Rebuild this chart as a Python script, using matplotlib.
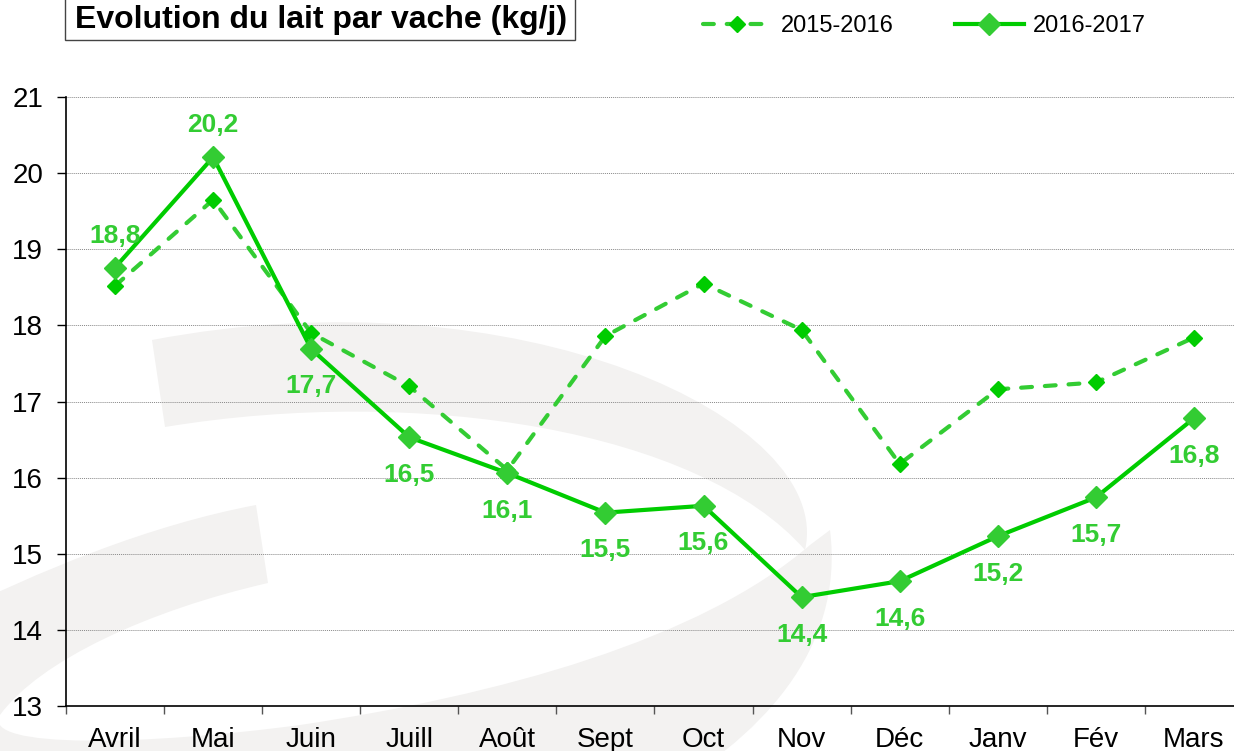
import numpy as np
import matplotlib
matplotlib.use("Agg")
import matplotlib.pyplot as plt
from matplotlib.path import Path
from matplotlib.patches import PathPatch, Rectangle

plt.rcParams['font.family'] = ['Liberation Sans', 'DejaVu Sans']

months = ['Avril', 'Mai', 'Juin', 'Juill', 'Août', 'Sept', 'Oct', 'Nov', 'Déc', 'Janv', 'Fév', 'Mars']
lait_2015 = [18.52, 19.65, 17.90, 17.20, 16.10, 17.86, 18.55, 17.94, 16.18, 17.16, 17.25, 17.84]
lait_2016 = [18.76, 20.21, 17.69, 16.53, 16.06, 15.54, 15.63, 14.43, 14.64, 15.23, 15.74, 16.78]
label_above = [True, True, False, False, False, False, False, False, False, False, False, False]

W, H = 1234, 751
fig = plt.figure(figsize=(W / 100, H / 100), dpi=100)


def px(pts):
    # image pixel coords -> figure fraction
    return [(x / W, 1 - y / H) for x, y in pts]


# faint watermark logo in the background
wm = '#f3f2f1'
C = Path.CURVE4
upper = Path(px([(152, 340), (165, 427),
                 (420, 385), (700, 430), (805, 550),
                 (835, 420), (520, 270), (152, 340),
                 (152, 340)]),
             [Path.MOVETO, Path.LINETO, C, C, C, C, C, C, Path.CLOSEPOLY])
lower = Path(px([(256, 505), (268, 583),
                 (150, 610), (40, 660), (0, 715),
                 (-20, 750), (150, 745), (300, 725),
                 (500, 695), (700, 640), (810, 545),
                 (830, 530),
                 (845, 650), (760, 740), (650, 800),
                 (-60, 800), (-60, 620),
                 (40, 570), (150, 525), (256, 505),
                 (256, 505)]),
             [Path.MOVETO, Path.LINETO, C, C, C, C, C, C, C, C, C,
              Path.LINETO, C, C, C, Path.LINETO, Path.LINETO, C, C, C,
              Path.CLOSEPOLY])
for p in (upper, lower):
    fig.patches.append(PathPatch(p, transform=fig.transFigure, facecolor=wm,
                                 edgecolor='none', zorder=-10))

ax = fig.add_axes([66 / W, (H - 706) / H, (1243 - 66) / W, (706 - 97) / H])
ax.patch.set_alpha(0)

x = np.arange(len(months))
ax.plot(x, lait_2015, color='#33cc33', lw=3, linestyle=(0, (2.6, 3.1)),
        dash_capstyle='round', marker='D', ms=8, mfc='#00cc00', mec='#00cc00',
        label='2015-2016', zorder=3)
ax.plot(x, lait_2016, color='#00cc00', lw=3, marker='D', ms=11,
        mfc='#33cc33', mec='#33cc33', label='2016-2017', zorder=4)

for xi, v, up in zip(x, lait_2016, label_above):
    ax.annotate(f"{v:.1f}".replace('.', ','), (xi, v),
                xytext=(0, 23 if up else -27), textcoords='offset points',
                ha='center', va='center', fontsize=19, fontweight='bold',
                color='#33cc33', zorder=5)

ax.set_xlim(-0.5, len(months) - 0.5)
ax.set_ylim(13, 21)
ax.set_yticks(range(13, 22))
ax.set_xticks(x)
ax.set_xticklabels(months, fontsize=20)
ax.set_xticks(np.arange(-0.5, len(months), 1), minor=True)
ax.tick_params(axis='x', which='major', length=0, pad=15)
ax.tick_params(axis='x', which='minor', length=6, width=1, color='#555555')
ax.tick_params(axis='y', length=6.5, width=1, labelsize=20, pad=10)
ax.grid(axis='y', color='#888888', lw=0.7, linestyle=(0, (1, 1)))
for s in ('top', 'right'):
    ax.spines[s].set_visible(False)
ax.spines['left'].set_linewidth(1.2)
ax.spines['bottom'].set_linewidth(1.2)

# boxed title
fig.patches.append(Rectangle((65 / W, 1 - 40 / H), (575 - 65) / W, 50 / H,
                             transform=fig.transFigure, facecolor='white',
                             edgecolor='#444444', lw=1, zorder=5))
fig.text(75 / W, 1 - 20 / H, 'Evolution du lait par vache (kg/j)', fontsize=23,
         fontweight='bold', va='center', ha='left', zorder=6)

fig.legend(loc='center left', bbox_to_anchor=(703 / W, 1 - 26 / H), ncol=2,
           frameon=False, fontsize=17, handlelength=2.9, handletextpad=0.4,
           columnspacing=2.6, borderpad=0, borderaxespad=0)

fig.savefig('out.png', dpi=100)
